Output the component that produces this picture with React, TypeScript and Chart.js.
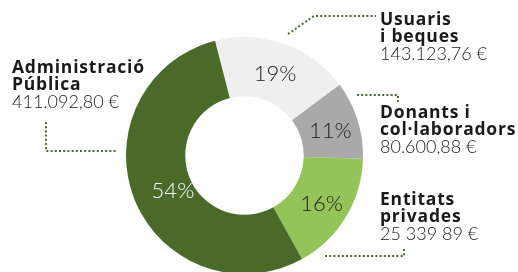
import React, { useEffect, useRef } from "react";
import { Chart, registerables } from "chart.js";

Chart.register(...registerables);

const categories = ["Usuaris i beques", "Donants i col·laboradors", "Entitats privades", "Administració Pública"];
const values = [143123.76, 80600.88, 125339.89, 411092.8];
const amountLabels = ["143.123,76 €", "80.600,88 €", "25 339 89 €", "411.092,80 €"];
const titleLines = [["Usuaris", "i beques"], ["Donants i", "col·laboradors"], ["Entitats", "privades"], ["Administració", "Pública"]];
const colors = ["#efefef", "#a9a9a9", "#94c35a", "#4b6a2a"];
const pctColors = ["#1a1a1a", "#1a1a1a", "#1a1a1a", "#ffffff"];

const FONT = "Lato, 'Open Sans', sans-serif";
const BOLD_FONT = "'Open Sans', Lato, sans-serif";

const labelsPlugin = {
  id: "customLabels",
  afterDraw(chart: any) {
    const ctx = chart.ctx as CanvasRenderingContext2D;
    const meta = chart.getDatasetMeta(0);
    const total = values.reduce((a, b) => a + b, 0);
    ctx.save();
    // percentages
    ctx.textAlign = "center";
    ctx.textBaseline = "middle";
    ctx.font = `300 22px ${FONT}`;
    meta.data.forEach((arc: any, i: number) => {
      const p = arc.tooltipPosition();
      const pct = Math.round((values[i] / total) * 100) + "%";
      ctx.fillStyle = pctColors[i];
      const dx = i === 3 ? 11 : 1;
      ctx.fillText(pct, p.x + dx, p.y + 2);
    });

    // leader lines
    ctx.strokeStyle = "#4b6a2a";
    ctx.lineWidth = 2;
    ctx.setLineDash([2, 2.2]);
    const line = (pts: number[][]) => {
      ctx.beginPath();
      ctx.moveTo(pts[0][0], pts[0][1]);
      for (let k = 1; k < pts.length; k++) ctx.lineTo(pts[k][0], pts[k][1]);
      ctx.stroke();
    };
    line([[288, 34], [314, 16], [376, 16]]);
    line([[357, 95], [398, 95], [398, 102]]);
    line([[325, 256], [404, 256], [404, 247]]);
    line([[46, 122], [46, 151], [116, 151]]);
    ctx.setLineDash([]);

    // text blocks
    ctx.textAlign = "left";
    ctx.textBaseline = "alphabetic";
    const blocks = [
      { x: 380, y: 25 },
      { x: 380, y: 118 },
      { x: 380, y: 205 },
      { x: 12, y: 73 },
    ];
    blocks.forEach((b, i) => {
      ctx.fillStyle = "#1a1a1a";
      ctx.font = `700 17.5px ${BOLD_FONT}`;
      (ctx as any).letterSpacing = "0.8px";
      ctx.fillText(titleLines[i][0], b.x, b.y);
      ctx.fillText(titleLines[i][1], b.x, b.y + 17);
      (ctx as any).letterSpacing = "0px";
      ctx.font = `300 18px ${FONT}`;
      ctx.fillText(amountLabels[i], b.x, b.y + 35);
    });
    ctx.restore();
  },
};

export default function App() {
  const ref = useRef<HTMLCanvasElement | null>(null);
  useEffect(() => {
    document.body.style.margin = "0";
    if (!ref.current) return;
    const chart = new Chart(ref.current, {
      type: "doughnut",
      data: {
        labels: categories,
        datasets: [
          {
            data: values,
            backgroundColor: colors,
            borderWidth: 0,
          },
        ],
      },
      options: {
        responsive: false,
        animation: false,
        cutout: "50%",
        rotation: -14.4,
        layout: { padding: { left: 126, right: 155, top: 37, bottom: 26 } },
        plugins: { legend: { display: false }, tooltip: { enabled: false } },
      },
      plugins: [labelsPlugin],
    });
    return () => chart.destroy();
  }, []);
  return (
    <div style={{ position: "fixed", left: 0, top: 0, width: 518, height: 272, overflow: "hidden", background: "#fff" }}>
      <canvas ref={ref} width={518} height={300} style={{ display: "block", width: 518, height: 300 }} />
    </div>
  );
}
